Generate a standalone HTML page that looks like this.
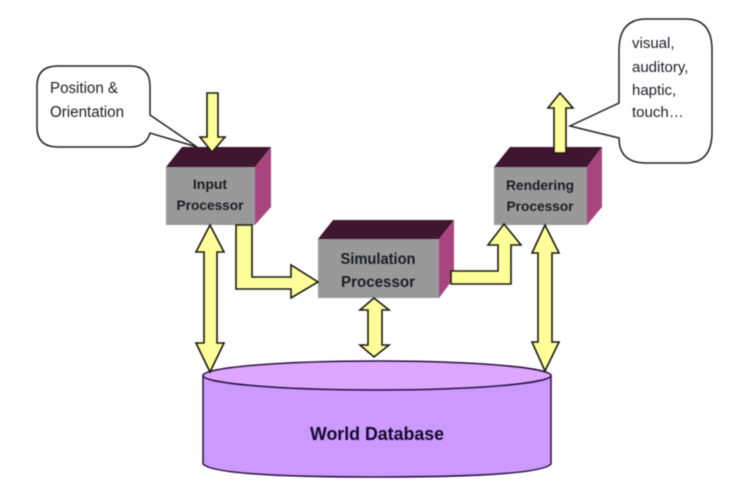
<!DOCTYPE html>
<html>
<head>
<meta charset="utf-8">
<style>
html,body{margin:0;padding:0;background:#fff;width:734px;height:495px;overflow:hidden}
svg{display:block;filter:blur(0.5px)}
text{font-family:"Liberation Sans",sans-serif;fill:#1c1c24}
.b{font-weight:bold;text-anchor:middle}
.arrow{fill:#ffff99;stroke:#1a1a10;stroke-width:1.6;stroke-linejoin:miter}
.bubble{fill:#fff;stroke:#222;stroke-width:1.5}
</style>
</head>
<body>
<svg width="734" height="495" viewBox="0 0 734 495" xmlns="http://www.w3.org/2000/svg">
<rect width="734" height="495" fill="#fff"/>

<!-- Left callout -->
<path class="bubble" d="M58 66 H130 Q150 66 150 86 V115 L197 147 L150 133 Q146 147 130 147 H58 Q37 147 37 127 V86 Q37 66 58 66 Z"/>
<text x="50" y="93" font-size="15.5" textLength="68" lengthAdjust="spacingAndGlyphs">Position &amp;</text>
<text x="50" y="117" font-size="15.5" textLength="74" lengthAdjust="spacingAndGlyphs">Orientation</text>

<!-- Right callout -->
<path class="bubble" d="M646 19 H686 Q712 19 712 50 V132 Q712 163 686 163 H646 Q619 163 619 138 L570 126 L619 103 V50 Q619 19 646 19 Z"/>
<text x="632" y="48" font-size="15">visual,</text>
<text x="632" y="72" font-size="15">auditory,</text>
<text x="632" y="95" font-size="15">haptic,</text>
<text x="632" y="117" font-size="15">touch…</text>

<!-- Input Processor -->
<polygon points="166,167 182,147 271,147 255,167" fill="#3f1530"/>
<polygon points="255,167 271,147 271,207 255,225" fill="#a8457f"/>
<rect x="166" y="167" width="89" height="58" fill="#999"/>
<text class="b" x="210" y="189" font-size="14">Input</text>
<text class="b" x="210" y="210" font-size="14" textLength="67" lengthAdjust="spacingAndGlyphs">Processor</text>

<!-- Simulation Processor -->
<polygon points="318,239 333,220 454,220 439,239" fill="#3f1530"/>
<polygon points="439,239 454,220 454,278 439,298" fill="#a8457f"/>
<rect x="318" y="239" width="121" height="59" fill="#999"/>
<text class="b" x="378" y="264" font-size="16" textLength="75" lengthAdjust="spacingAndGlyphs">Simulation</text>
<text class="b" x="378" y="287" font-size="16" textLength="74" lengthAdjust="spacingAndGlyphs">Processor</text>

<!-- Rendering Processor -->
<polygon points="494,167 510,147 602,147 587,167" fill="#3f1530"/>
<polygon points="587,167 602,147 602,207 587,225" fill="#a8457f"/>
<rect x="494" y="167" width="93" height="58" fill="#999"/>
<text class="b" x="540" y="190" font-size="14" textLength="68" lengthAdjust="spacingAndGlyphs">Rendering</text>
<text class="b" x="540" y="211" font-size="14" textLength="67" lengthAdjust="spacingAndGlyphs">Processor</text>

<!-- Cylinder -->
<path d="M203 375.5 V464 Q215 477 377 477 Q539 477 551 464 V375.5 Z" fill="#cc99ff" stroke="#2a1040" stroke-width="1.5"/>
<ellipse cx="377" cy="375.5" rx="174" ry="14.5" fill="#dda6ff" stroke="#2a1040" stroke-width="1.6"/>
<text class="b" x="377" y="440" font-size="18" textLength="134" lengthAdjust="spacingAndGlyphs" style="fill:#120a28">World Database</text>

<!-- Arrows -->
<polygon class="arrow" points="207,93 218,93 218,137 225,137 212,152 200,137 207,137"/>
<polygon class="arrow" points="210,225 224,252 217,252 217,343 224,343 210,372 196,343 204,343 204,252 196,252"/>
<polygon class="arrow" points="236,225 252,225 252,277 291,277 291,265 318,282 291,298 291,289 236,289"/>
<polygon class="arrow" points="451,271 498,271 498,245 488,245 504,224 521,245 511,245 511,284 451,284"/>
<polygon class="arrow" points="374,298 389,310 382,310 382,345 389,345 374,357 360,345 368,345 368,310 360,310"/>
<polygon class="arrow" points="545,225 559,253 552,253 552,342 559,342 545,371 532,342 538,342 538,253 532,253"/>
<polygon class="arrow" points="560,93 573,108 566,108 566,153 554,153 554,108 548,108"/>
</svg>
</body>
</html>
